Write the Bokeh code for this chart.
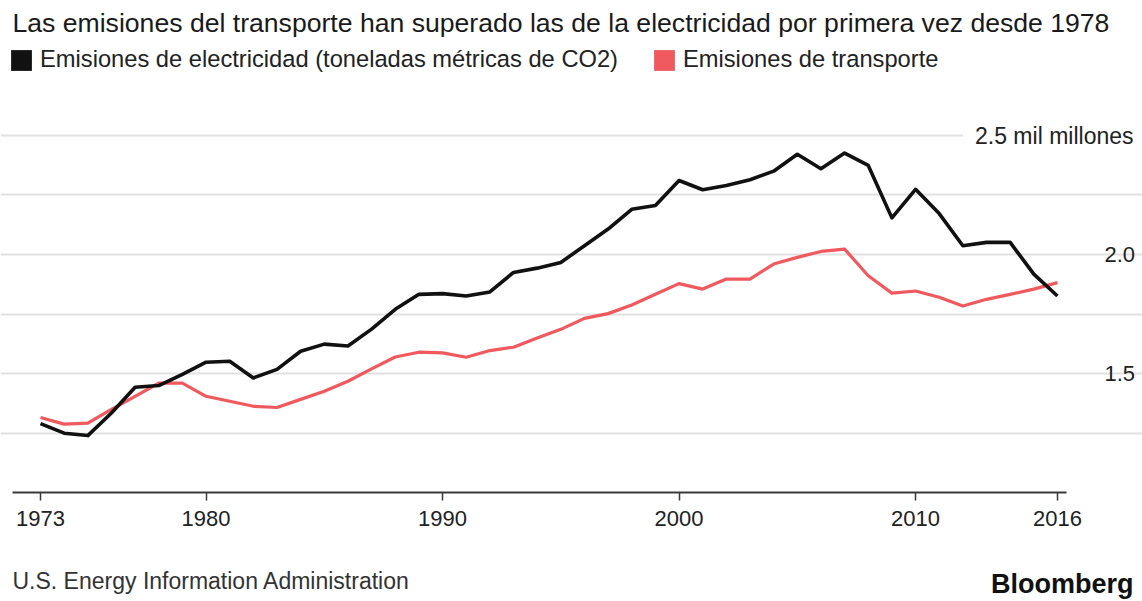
from bokeh.plotting import figure
from bokeh.models import (Range1d, FixedTicker, Label, Legend, LegendItem, LinearAxis,
                          Grid, PrintfTickFormatter)
from bokeh.embed import file_html
from bokeh.resources import INLINE

# ---- data, billions of metric tons CO2 ----
years = list(range(1973, 2017))
electricity = [1.29, 1.25, 1.24, 1.335, 1.443, 1.45, 1.497, 1.548, 1.552, 1.482,
               1.518, 1.594, 1.624, 1.616, 1.687, 1.77,
               1.833, 1.836, 1.826, 1.843, 1.925, 1.943, 1.967, 2.037, 2.107, 2.19, 2.206,
               2.311, 2.272, 2.29, 2.314, 2.35, 2.421, 2.36, 2.426, 2.374, 2.154,
               2.274, 2.172, 2.037, 2.051, 2.051, 1.918, 1.826]
transport = [1.316, 1.288, 1.292, 1.35, 1.405, 1.46, 1.46, 1.405, 1.384, 1.363,
             1.358, 1.392, 1.426, 1.468, 1.52, 1.57,
             1.59, 1.587, 1.569, 1.597, 1.611, 1.65, 1.686, 1.732, 1.752, 1.788, 1.833,
             1.878, 1.855, 1.897, 1.897, 1.96, 1.988, 2.013, 2.023, 1.911, 1.838,
             1.847, 1.821, 1.784, 1.812, 1.833, 1.855, 1.882]
x_ticks = [1973, 1980, 1990, 2000, 2010, 2016]
y_label_ticks = [1.5, 2.0]
y_grid_ticks = [1.25, 1.5, 1.75, 2.0, 2.25, 2.5]
top_label = "2.5 mil millones"
title_text = "Las emisiones del transporte han superado las de la electricidad por primera vez desde 1978"
legend_labels = ["Emisiones de electricidad (toneladas métricas de CO2)", "Emisiones de transporte"]
source_text = "U.S. Energy Information Administration"
brand_text = "Bloomberg"

FONT = "Liberation Sans"
BLACK = "#111111"
RED = "#f0595e"
TXT = "#222222"

# frame covers the whole canvas; axes are pinned inside it with fixed_location
X0, X1 = 1971.3087, 2019.596
Y0, Y1 = 0.54345, 3.06654
GRID_X = (1971.816, 2017.10)
AXIS_X = (1971.816, 2016.38)
RIGHT_AXIS_AT = 2017.10
NAN = float("nan")

p = figure(width=1142, height=601, output_backend="svg", toolbar_location=None,
           x_range=Range1d(X0, X1), y_range=Range1d(Y0, Y1),
           x_axis_location=None, y_axis_location=None,
           min_border=0, min_border_left=0, min_border_right=0,
           min_border_top=0, min_border_bottom=0)
p.outline_line_color = None
p.background_fill_color = "white"
p.border_fill_color = "white"
p.xgrid.visible = False
p.ygrid.visible = False

# horizontal grid
grid = Grid(dimension=1, ticker=FixedTicker(ticks=y_grid_ticks), bounds=GRID_X,
            grid_line_color="#e1e1e1", grid_line_width=2)
p.add_layout(grid)

# x axis
xa = LinearAxis(fixed_location=1.0, bounds=AXIS_X, ticker=FixedTicker(ticks=x_ticks),
                axis_line_color="#3a3a3a", axis_line_width=2,
                major_tick_line_color="#3a3a3a", major_tick_line_width=1.5,
                major_tick_in=0, major_tick_out=8, minor_tick_line_color=None,
                major_label_standoff=10, major_label_text_font=FONT,
                major_label_text_font_size="22px", major_label_text_color=TXT)
p.add_layout(xa, "below")

# y axis (right)
ya = LinearAxis(fixed_location=RIGHT_AXIS_AT, ticker=FixedTicker(ticks=y_label_ticks),
                formatter=PrintfTickFormatter(format="%.1f"),
                axis_line_color=None, major_tick_line_color=None, minor_tick_line_color=None,
                major_label_standoff=15, major_label_text_font=FONT,
                major_label_text_font_size="22px", major_label_text_color=TXT)
p.add_layout(ya, "right")

# series
p.line(years, transport, line_color=RED, line_width=3.2, line_join="round")
p.line(years, electricity, line_color=BLACK, line_width=3.6, line_join="round")

# legend swatches (renderers with no visible point, only used for the legend)
sw_e = p.quad(left=[NAN], right=[NAN], top=[NAN], bottom=[NAN], fill_color=BLACK, line_color=None)
sw_t = p.quad(left=[NAN], right=[NAN], top=[NAN], bottom=[NAN], fill_color=RED, line_color=None)
legend = Legend(items=[LegendItem(label=legend_labels[0], renderers=[sw_e]),
                       LegendItem(label=legend_labels[1], renderers=[sw_t])],
                location=(8, 528), orientation="horizontal",
                glyph_width=26, glyph_height=26, label_standoff=6, spacing=33,
                padding=0, margin=0, border_line_color=None, background_fill_alpha=0,
                label_text_font=FONT, label_text_font_size="23.7px", label_text_color=TXT,
                label_height=22)
p.add_layout(legend)

# texts
p.add_layout(Label(x=12, y=579, x_units="screen", y_units="screen", text=title_text,
                   text_font=FONT, text_font_size="26.6px", text_color="#1a1a1a",
                   text_baseline="middle"))
p.add_layout(Label(x=1145, y=466, x_units="screen", y_units="screen", text=top_label,
                   text_font=FONT, text_font_size="23px", text_color=TXT,
                   text_baseline="middle", text_align="right",
                   background_fill_color="white", padding=12))
p.add_layout(Label(x=12, y=21, x_units="screen", y_units="screen", text=source_text,
                   text_font=FONT, text_font_size="23px", text_color="#333333",
                   text_baseline="middle"))
p.add_layout(Label(x=1133, y=18, x_units="screen", y_units="screen", text=brand_text,
                   text_font=FONT, text_font_size="27px", text_font_style="bold",
                   text_color="#111111", text_baseline="middle", text_align="right"))

open("out.html", "w").write(file_html(p, INLINE))
